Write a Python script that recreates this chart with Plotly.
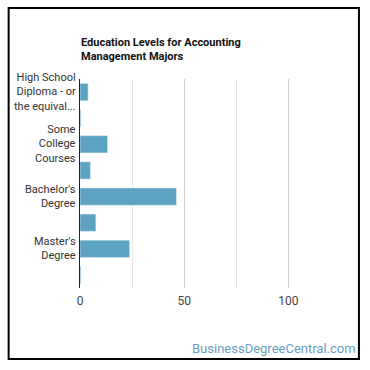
import plotly.graph_objects as go

categories = [
    "High School<br>Diploma - or<br>the equival...",
    " ",
    "Some<br>College<br>Courses",
    "  ",
    "Bachelor's<br>Degree",
    "   ",
    "Master's<br>Degree",
    "    ",
]
values = [3.9, 0.4, 13.2, 5.0, 46.3, 7.6, 23.8, 0.4]
x_tick_vals = [0, 50, 100]
x_tick_text = ["0", "50", "100"]

W, H = 370, 370
L, R, T, B = 79.5, 40, 79, 82
pw, ph = W - L - R, H - T - B

def px_x(x):
    return (x - L) / pw

def px_y(y):
    return 1 - (y - T) / ph

fig = go.Figure(go.Bar(
    x=values, y=categories, orientation="h",
    marker=dict(color="#5ba3c1"),
    hoverinfo="skip",
))

annotations = [
    dict(text=c, xref="paper", yref="y", x=px_x(77), y=c,
         xanchor="right", yanchor="middle", align="right", showarrow=False,
         font=dict(size=11, color="#333"))
    for c in categories if c.strip()
]
annotations += [
    dict(text="<b>Education Levels for Accounting<br>Management Majors</b>",
         xref="paper", yref="paper", x=px_x(78.5), y=px_y(34),
         xanchor="left", yanchor="top", align="left", showarrow=False,
         font=dict(size=11, color="#111")),
    dict(text="BusinessDegreeCentral.com",
         xref="paper", yref="paper", x=px_x(358), y=px_y(348),
         xanchor="right", yanchor="middle", showarrow=False,
         font=dict(size=13, color="#6a9fc0")),
]

fig.update_layout(
    width=W, height=H,
    margin=dict(l=L, r=R, t=T, b=B),
    paper_bgcolor="white", plot_bgcolor="white",
    font=dict(family="Roboto", size=12, color="#444"),
    bargap=0.34,
    showlegend=False,
    xaxis=dict(
        range=[0, 120], tickvals=x_tick_vals, ticktext=x_tick_text,
        showgrid=True, gridcolor="#cfcfcf", gridwidth=1,
        minor=dict(dtick=25, tick0=0, showgrid=True, gridcolor="#e6e6e6"),
        zeroline=False, showline=False, ticks="", automargin=False,
        ticklabelstandoff=4,
        tickfont=dict(size=12, color="#444"),
    ),
    yaxis=dict(
        range=[len(categories) - 0.5, -0.5],
        categoryorder="array", categoryarray=categories,
        showline=True, linecolor="#222", linewidth=1, ticks="",
        showgrid=False, zeroline=False, showticklabels=False, automargin=False,
    ),
    annotations=annotations,
    shapes=[
        dict(type="rect", xref="paper", yref="paper",
             x0=px_x(8), x1=px_x(359), y0=px_y(359), y1=px_y(8),
             line=dict(color="black", width=2), fillcolor="rgba(0,0,0,0)", layer="above"),
    ],
)

fig.write_html("out.html")
